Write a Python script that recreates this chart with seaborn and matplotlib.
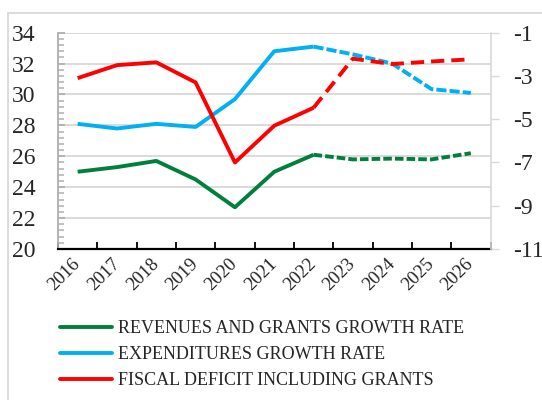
import matplotlib
matplotlib.use("Agg")
import matplotlib.pyplot as plt
from matplotlib.lines import Line2D
from matplotlib.patches import Rectangle
from matplotlib.ticker import MultipleLocator, FixedLocator
import pandas as pd
import seaborn as sns

years = ["2016", "2017", "2018", "2019", "2020", "2021", "2022",
         "2023", "2024", "2025", "2026"]
revenues = [25.0, 25.3, 25.7, 24.5, 22.7, 25.0, 26.1, 25.8, 25.85, 25.8, 26.2]
expenditures = [28.1, 27.8, 28.1, 27.9, 29.7, 32.8, 33.1, 32.6, 32.0, 30.35, 30.1]
deficit = [-3.1, -2.5, -2.37, -3.3, -7.0, -5.3, -4.47, -2.2, -2.45, -2.33, -2.23]
last_actual = "2022"

labels = ["REVENUES AND GRANTS GROWTH RATE",
          "EXPENDITURES GROWTH RATE",
          "FISCAL DEFICIT INCLUDING GRANTS"]
colors = ["#00803c", "#00b0f0", "#ff0000"]

sns.set_theme(style="white")
plt.rcParams["font.family"] = ["Liberation Serif", "DejaVu Serif"]

split = years.index(last_actual)
pos = list(range(len(years)))

fig = plt.figure(figsize=(5.42, 4.0), dpi=100)
ax = fig.add_axes([58 / 542, 1 - 249 / 400, (490.5 - 58) / 542, (249 - 32.7) / 400])
ax2 = ax.twinx()

# outer chart border
fig.patches.append(Rectangle((8 / 542, -0.1), 1.2, 1 - 13 / 400 + 0.1,
                             transform=fig.transFigure, fill=False,
                             edgecolor="#d9d9d9", linewidth=1.3))


def draw(axis, values, color, dashes):
    df = pd.DataFrame({"x": pos, "y": values})
    sns.lineplot(data=df.iloc[:split + 1], x="x", y="y", ax=axis, color=color,
                 linewidth=2.8, solid_capstyle="butt")
    sns.lineplot(data=df.iloc[split:], x="x", y="y", ax=axis, color=color,
                 linewidth=2.8)
    axis.lines[-1].set_dashes(dashes)
    axis.lines[-1].set_dash_capstyle("butt")


draw(ax, revenues, colors[0], (2.2, 0.8))
draw(ax, expenditures, colors[1], (2.6, 0.8))
draw(ax2, deficit, colors[2], (3.4, 1.8))

# left axis
ax.set_xlim(-0.5, len(years) - 0.5)
ax.set_ylim(20, 34)
ax.yaxis.set_major_locator(MultipleLocator(2))
ax.yaxis.set_minor_locator(MultipleLocator(0.4))
ax.grid(axis="y", which="major", color="#d4d4d4", linewidth=1.2)
ax.set_axisbelow(True)
ax.tick_params(axis="y", which="major", direction="in", length=5, width=1.3,
               color="#b0b0b0", labelsize=17, pad=16, left=True)
ax.tick_params(axis="y", which="minor", direction="in", length=4, width=1.1,
               color="#b0b0b0", left=True)

# category axis: labels at centres, tick marks at boundaries
ax.set_xticks(pos)
ax.set_xticklabels(years, rotation=45, ha="right", va="center",
                   rotation_mode="anchor")
ax.tick_params(axis="x", which="major", length=0, labelsize=13.5, pad=9)
ax.xaxis.set_minor_locator(FixedLocator([p - 0.5 for p in range(len(years) + 1)]))
ax.tick_params(axis="x", which="minor", direction="in", length=5, width=1.3,
               color="black", bottom=True)
ax.set_xlabel("")
ax.set_ylabel("")

ax.spines["top"].set_visible(False)
ax2.spines["top"].set_visible(False)
ax.spines["left"].set_color("#b0b0b0")
ax.spines["left"].set_linewidth(1.3)
ax.spines["bottom"].set_color("black")
ax.spines["bottom"].set_linewidth(1.6)
ax.spines["right"].set_visible(False)
ax2.spines["left"].set_visible(False)
ax2.spines["bottom"].set_visible(False)
ax2.spines["right"].set_color("#d9d9d9")
ax2.spines["right"].set_linewidth(1.2)

# right axis
ax2.set_ylim(-11, -1)
ax2.set_yticks([-1, -3, -5, -7, -9, -11])
ax2.set_yticklabels(["-1", "-3", "-5", "-7", "-9", "-11"])
ax2.tick_params(axis="y", direction="out", length=6, width=1.0,
                color="#d9d9d9", labelsize=17, pad=10, right=True)
ax2.set_ylabel("")

handles = [Line2D([0], [0], color=c, linewidth=2.8) for c in colors]
fig.legend(handles, labels, loc="upper left",
           bbox_to_anchor=(60 / 542, 1 - 320 / 400), frameon=False,
           fontsize=13, handlelength=2.9, handletextpad=0.3,
           labelspacing=0.5, borderpad=0, borderaxespad=0)

fig.savefig("out.png", dpi=100)
